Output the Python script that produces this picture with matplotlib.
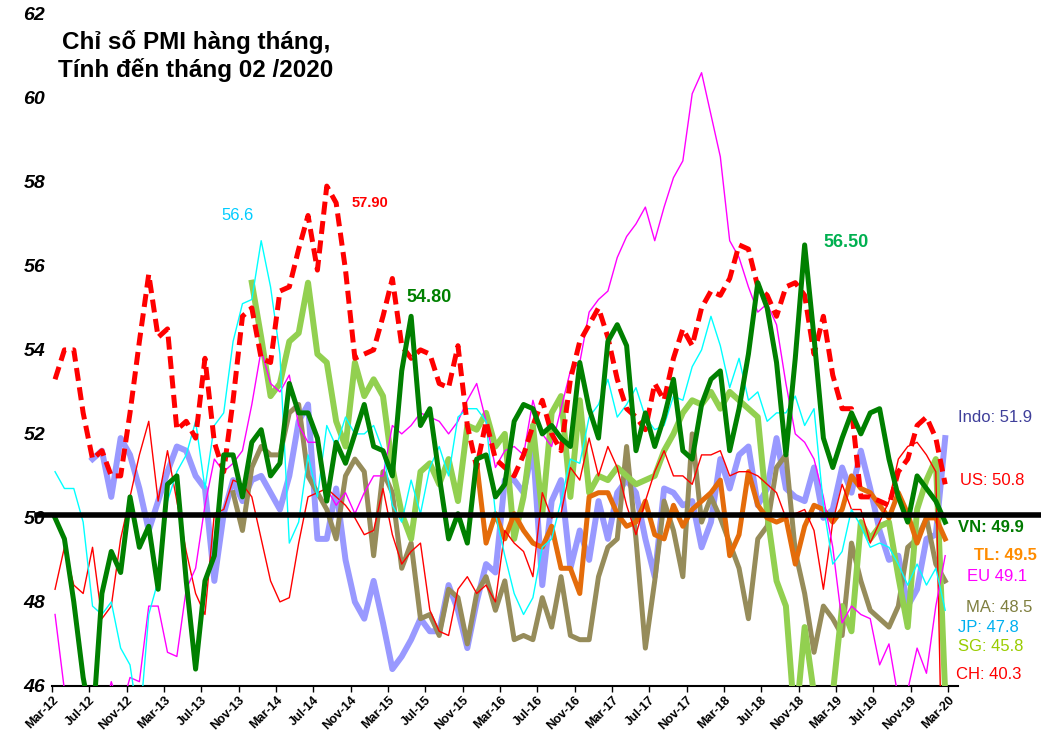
import numpy as np
import matplotlib
matplotlib.use("Agg")
import matplotlib.pyplot as plt

plt.rcParams['font.family'] = ['Liberation Sans', 'DejaVu Sans']

# monthly PMI, Mar-12 .. Feb-20 (index 0 = Mar-12)
tick_labels = ['Mar-12', 'Jul-12', 'Nov-12', 'Mar-13', 'Jul-13', 'Nov-13', 'Mar-14',
               'Jul-14', 'Nov-14', 'Mar-15', 'Jul-15', 'Nov-15', 'Mar-16', 'Jul-16',
               'Nov-16', 'Mar-17', 'Jul-17', 'Nov-17', 'Mar-18', 'Jul-18', 'Nov-18',
               'Mar-19', 'Jul-19', 'Nov-19', 'Mar-20']

vn = [50.0, 49.5, 48.0, 46.2, 45.0, 48.2, 49.2, 48.7, 50.5, 49.3,
      49.8, 48.3, 50.8, 51.0, 48.5, 46.4, 48.5, 49.1, 51.5, 51.5,
      50.5, 51.8, 52.1, 51.0, 51.3, 53.2, 52.5, 52.5, 51.9, 50.4,
      51.8, 51.3, 52.0, 52.7, 51.7, 51.6, 51.0, 53.5, 54.8, 52.2,
      52.6, 51.0, 49.5, 50.1, 49.4, 51.4, 51.5, 50.5, 50.8, 52.3,
      52.7, 52.6, 52.0, 52.2, 51.9, 51.7, 53.7, 52.6, 51.9, 54.2,
      54.6, 54.1, 51.6, 52.5, 51.7, 52.4, 53.3, 51.6, 51.4, 52.7,
      53.3, 53.5, 51.6, 52.6, 53.9, 55.6, 55.0, 53.7, 51.5, 53.8,
      56.5, 54.3, 51.9, 51.2, 51.9, 52.5, 52.0, 52.5, 52.6, 51.4,
      50.5, 49.9, 51.0, 50.7, 50.4, 49.9]

us = [53.3, 54.0, 54.0, 52.5, 51.4, 51.6, 51.0, 51.0, 52.5, 54.2,
      55.8, 54.3, 54.5, 52.1, 52.3, 51.9, 53.8, 51.8, 51.1, 52.8,
      54.8, 55.0, 53.8, 53.7, 55.4, 55.5, 56.4, 57.2, 55.9, 57.9,
      57.5, 55.9, 53.8, 53.9, 54.0, 54.8, 55.7, 54.1, 53.8, 54.0,
      53.9, 53.2, 53.1, 54.1, 52.2, 51.2, 52.3, 51.4, 51.2, 51.0,
      51.5, 52.2, 52.8, 52.0, 51.6, 53.3, 54.2, 54.6, 55.0, 54.3,
      53.3, 52.6, 52.4, 52.1, 53.2, 52.8, 53.8, 54.5, 54.1, 55.0,
      55.4, 55.3, 55.7, 56.5, 56.4, 55.5, 55.3, 54.8, 55.5, 55.6,
      55.3, 53.9, 54.8, 53.4, 52.6, 52.6, 50.5, 50.5, 50.4, 50.3,
      51.1, 51.4, 52.2, 52.4, 51.9, 50.8]

ch = [48.3, 49.3, 48.4, 48.2, 49.3, 47.6, 47.9, 49.5, 50.5, 51.5,
      52.3, 50.4, 51.6, 50.4, 49.2, 48.2, 47.7, 50.1, 50.2, 50.9, 50.8, 50.5,
      49.5, 48.5, 48.0, 48.1, 49.4, 50.5, 50.6, 50.7, 50.5, 50.3, 50.0, 49.6,
      49.7, 50.7, 49.6, 48.9, 49.2, 49.4, 47.8, 47.3, 47.2, 48.3, 48.6, 48.2,
      48.4, 48.0, 49.7, 49.4, 49.2, 48.6, 50.6, 50.0, 50.1, 51.2, 50.9, 51.9,
      51.0, 51.7, 51.2, 50.3, 49.6, 50.4, 51.1, 51.6, 51.0, 51.0, 50.8, 51.5,
      51.5, 51.6, 51.0, 51.1, 51.1, 51.0, 50.8, 50.6, 50.0, 50.1, 50.2, 49.7,
      48.3, 49.9, 50.8, 50.2, 50.2, 49.4, 49.9, 50.4, 51.4, 51.7, 51.8, 51.5,
      51.1, 40.3]

eu = [47.7, 45.9, 45.1, 45.1, 44.0, 45.1, 46.1, 45.4, 46.2, 46.1,
      47.9, 47.9, 46.8, 46.7, 48.3, 48.8, 50.3, 51.4, 51.1, 51.3, 51.6, 52.7,
      54.0, 53.2, 53.0, 53.4, 52.2, 51.8, 51.8, 50.7, 50.3, 50.6, 50.1, 50.6,
      51.0, 51.0, 52.2, 52.0, 52.2, 52.5, 52.4, 52.3, 52.0, 52.3, 52.8, 53.2,
      52.3, 51.2, 51.6, 51.7, 51.5, 52.8, 52.0, 51.7, 52.6, 53.5, 53.7, 54.9,
      55.2, 55.4, 56.2, 56.7, 57.0, 57.4, 56.6, 57.4, 58.1, 58.5, 60.1, 60.6,
      59.6, 58.6, 56.6, 56.2, 55.5, 54.9, 55.1, 54.6, 53.2, 52.0, 51.8, 51.4,
      50.5, 49.3, 47.5, 47.9, 47.7, 47.6, 46.5, 47.0, 45.7, 45.9, 46.9, 46.3,
      47.9, 49.1]

jp = [51.1, 50.7, 50.7, 49.9, 47.9, 47.7, 48.0, 46.9, 46.5, 45.0,
      47.7, 48.5, 50.4, 51.1, 51.5, 52.3, 50.7, 52.2, 52.5, 54.2, 55.1, 55.2,
      56.6, 55.5, 53.9, 49.4, 49.9, 51.5, 50.5, 52.2, 51.7, 52.4, 52.0, 52.0,
      52.2, 51.6, 50.3, 49.9, 50.9, 50.1, 51.2, 51.7, 51.0, 52.4, 52.6, 52.6,
      52.3, 50.1, 49.1, 48.2, 47.7, 48.1, 49.3, 49.5, 50.4, 51.4, 51.3, 52.4,
      52.7, 53.3, 52.4, 52.7, 53.1, 52.4, 52.1, 52.2, 52.9, 52.8, 53.6, 54.0,
      54.8, 54.1, 53.1, 53.8, 52.8, 53.0, 52.3, 52.5, 52.5, 52.9, 52.2, 52.6,
      50.3, 48.9, 49.2, 50.2, 49.8, 49.3, 49.4, 49.3, 48.9, 48.4, 48.9, 48.4,
      48.8, 47.8]

indo_start = 4
indo = [51.4, 51.6, 50.5, 51.9, 51.5, 50.7, 49.7, 50.4, 51.1, 51.7,
        51.6, 51.0, 50.7, 48.5, 50.1, 50.9, 50.4, 50.9, 51.0, 50.6,
        50.2, 51.0, 52.3, 52.7, 49.5, 49.5, 50.7, 49.0, 48.0, 47.6,
        48.5, 47.5, 46.4, 46.7, 47.1, 47.6, 47.3, 47.3, 48.4, 47.8,
        46.9, 48.0, 48.9, 48.7, 50.9, 50.9, 50.6, 51.7, 48.4, 50.4,
        50.9, 48.8, 49.7, 49.0, 50.4, 49.5, 50.6, 50.9, 50.6, 49.5,
        48.6, 50.7, 50.6, 50.3, 50.4, 49.3, 49.9, 51.4, 50.7, 51.5,
        51.7, 50.3, 50.7, 51.9, 50.7, 50.5, 50.4, 51.2, 50.0, 50.2,
        51.2, 50.6, 51.6, 50.7, 49.7, 49.0, 49.1, 47.9, 48.3, 49.5,
        49.6, 51.9]

ma_start = 19
ma = [50.6, 49.7, 51.2, 51.7, 51.5, 51.5, 52.5, 52.7, 51.0, 50.6,
      50.2, 49.5, 51.0, 51.4, 51.1, 49.1, 51.1, 50.6, 48.8, 49.4,
      47.6, 47.7, 47.2, 48.3, 48.1, 47.0, 48.2, 48.6, 47.8, 48.5,
      47.1, 47.2, 47.1, 48.1, 47.4, 48.6, 47.2, 47.1, 47.1, 48.6,
      49.3, 49.5, 51.7, 49.5, 46.9, 48.5, 50.4, 49.7, 48.6, 52.0,
      49.9, 50.5, 50.0, 49.4, 48.8, 47.6, 49.5, 49.8, 51.2, 51.5,
      49.2, 48.2, 46.8, 47.9, 47.6, 47.2, 49.4, 48.5, 47.8, 47.6,
      47.4, 47.9, 49.3, 49.5, 50.0, 48.9, 48.5]

sg_start = 21
sg = [55.6, 54.3, 52.9, 53.2, 54.2, 54.4, 55.6, 53.9, 53.7, 52.3,
      51.7, 53.7, 52.9, 53.3, 52.9, 51.2, 50.1, 49.5, 51.1, 51.3,
      50.8, 51.4, 50.4, 52.2, 52.1, 52.5, 51.7, 52.0, 49.5, 50.5,
      52.2, 50.1, 52.5, 52.9, 50.5, 52.8, 50.6, 51.0, 50.9, 51.2,
      51.0, 50.8, 50.9, 51.0, 51.6, 52.0, 52.5, 52.8, 52.7, 53.0,
      52.6, 53.0, 52.8, 52.6, 52.4, 50.1, 48.5, 47.9, 45.0, 47.4,
      45.8, 45.0, 45.8, 47.9, 47.3, 49.9, 49.5, 49.8, 49.9, 48.6,
      47.4, 50.2, 50.9, 51.4, 45.8]

tl_start = 45
tl = [51.3, 49.4, 50.1, 49.5, 50.1, 49.7, 49.4, 49.3, 49.8, 48.8,
      48.8, 48.2, 50.5, 50.6, 50.6, 50.1, 49.8, 49.9, 50.4, 49.6,
      49.5, 50.3, 49.8, 50.2, 50.4, 50.6, 50.9, 49.1, 49.6, 51.1,
      50.3, 50.0, 49.9, 50.0, 48.9, 49.8, 50.3, 50.2, 49.9, 50.2,
      51.0, 50.7, 50.6, 50.3, 50.0, 50.6, 50.1, 49.4, 50.0, 50.0,
      49.5]

end_labels = ['Indo: 51.9', 'US: 50.8', 'VN: 49.9', 'TL: 49.5', 'EU 49.1',
              'MA: 48.5', 'JP: 47.8', 'SG: 45.8', 'CH: 40.3']


def xs(start, values):
    return np.arange(start, start + len(values))


fig = plt.figure(figsize=(10.41, 7.32), dpi=100)
ax = fig.add_axes([0.05, 0.063, 0.8703, 0.918])

ax.plot(xs(indo_start, indo), indo, color='#9999FF', lw=4.3, zorder=2)
ax.plot(xs(ma_start, ma), ma, color='#968C5A', lw=3.6, zorder=3)
ax.plot(xs(sg_start, sg), sg, color='#92D050', lw=4.3, zorder=3)
ax.plot(xs(tl_start, tl), tl, color='#E46C0A', lw=3.6, zorder=4)
ax.plot(xs(0, ch), ch, color='#FF0000', lw=1.0, zorder=5)
ax.plot(xs(0, eu), eu, color='#FF00FF', lw=1.0, zorder=5)
ax.plot(xs(0, jp), jp, color='#00FFFF', lw=1.0, zorder=5)
ax.plot(xs(0, us), us, color='#FF0000', lw=3.6, linestyle=(0, (2.6, 1.3)), zorder=6)
ax.plot(xs(0, vn), vn, color='#008000', lw=3.6, zorder=7)

ax.axhline(50.07, xmin=-0.017, xmax=1.1, color='black', lw=4.0, clip_on=False, zorder=10)

ax.set_xlim(-0.32, 96.37)
ax.set_ylim(46, 62)
ax.set_yticks(np.arange(46, 63, 2))
ax.set_yticklabels([str(v) for v in range(46, 63, 2)], fontsize=14,
                   fontweight='bold', fontstyle='italic')
ax.set_xticks(np.linspace(-0.32, 95.3, len(tick_labels)))
ax.set_xticklabels(tick_labels, rotation=45, ha='right', rotation_mode='anchor',
                   fontsize=9, fontweight='bold')
ax.tick_params(axis='y', length=0, pad=5)
ax.tick_params(axis='x', length=4, width=1, direction='out', pad=2)
for s in ['left', 'top', 'right']:
    ax.spines[s].set_visible(False)
ax.spines['bottom'].set_linewidth(1.5)

# end-of-series labels
ax.text(96.4, 52.38, end_labels[0], color='#3F3F9A', fontsize=12, va='center')
ax.text(96.6, 50.9, end_labels[1], color='#FF0000', fontsize=12, va='center')
ax.text(96.4, 49.76, end_labels[2], color='#007A00', fontsize=12, fontweight='bold', va='center')
ax.text(98.1, 49.1, end_labels[3], color='#FF8C00', fontsize=12, fontweight='bold', va='center')
ax.text(97.3, 48.6, end_labels[4], color='#FF00FF', fontsize=12, va='center')
ax.text(97.2, 47.86, end_labels[5], color='#7F7F3F', fontsize=12, va='center')
ax.text(96.4, 47.38, end_labels[6], color='#00B0F0', fontsize=12, va='center')
ax.text(96.4, 46.93, end_labels[7], color='#99CC00', fontsize=12, va='center')
ax.text(96.1, 46.26, end_labels[8], color='#FF0000', fontsize=12, va='center')

# peak annotations
ax.text(17.8, 57.2, '56.6', color='#00CCFF', fontsize=12, va='center')
ax.text(31.7, 57.5, '57.90', color='#FF0000', fontsize=10.5, fontweight='bold', va='center')
ax.text(37.5, 55.24, '54.80', color='#008000', fontsize=13, fontweight='bold', va='center')
ax.text(82.0, 56.55, '56.50', color='#00B050', fontsize=13, fontweight='bold', va='center')

fig.text(0.188, 0.9235, 'Chỉ số PMI hàng tháng,\nTính đến tháng 02 /2020',
         ha='center', va='center', fontsize=17.5, fontweight='bold', linespacing=1.2)

fig.savefig('out.png', dpi=100)
